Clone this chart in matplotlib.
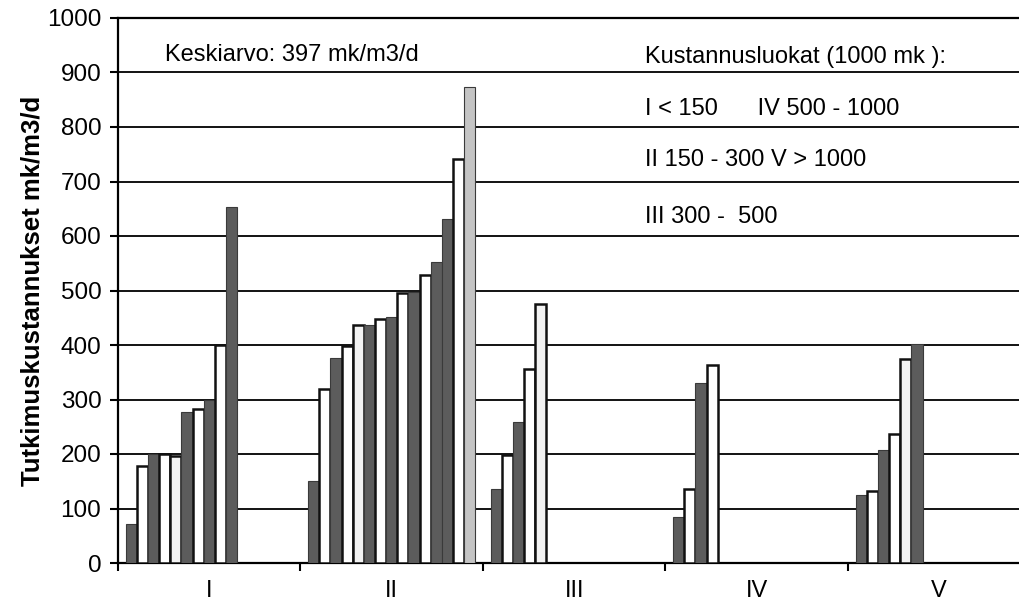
import matplotlib
matplotlib.use("Agg")
import matplotlib.pyplot as plt
import numpy as np

plt.rcParams['font.family'] = ['Liberation Sans', 'DejaVu Sans']

# cost classes and the bar values (mk/m3/d) in each class
categories = ['I', 'II', 'III', 'IV', 'V']
cat_I = [72, 178, 200, 200, 197, 277, 283, 300, 400, 653]
cat_II = [151, 319, 377, 398, 436, 437, 447, 451, 495, 497, 529, 553, 632, 742, 873]
cat_III = [135, 198, 258, 356, 475]
cat_IV = [85, 135, 330, 363]
cat_V = [125, 133, 207, 236, 375, 401]
groups = [cat_I, cat_II, cat_III, cat_IV, cat_V]

# fill per series slot (15 series)
DARK = '#5c5c5c'
WHITE = '#ffffff'
LIGHT = '#f2f2f2'
GRAY = '#c4c4c4'
series_fill = [DARK, WHITE, DARK, WHITE, LIGHT, DARK, WHITE, DARK,
               WHITE, DARK, WHITE, DARK, DARK, WHITE, GRAY]

n_series = len(series_fill)
gap = 1.35
w = 1.0 / (n_series + gap)

fig = plt.figure(figsize=(10.2, 6.06), dpi=100)
ax = fig.add_axes([118 / 1020, 43 / 606, 912.5 / 1020, 545 / 606])

for ci, vals in enumerate(groups):
    for si, v in enumerate(vals):
        left = ci + gap / 2 * w + si * w
        fc = series_fill[si]
        ec = '#111111' if fc in (WHITE, LIGHT) else '#3a3a3a'
        lw = 1.8 if fc in (WHITE, LIGHT) else 0.8
        ax.bar(left, v, width=w, align='edge', color=fc,
               edgecolor=ec, linewidth=lw, zorder=3)

ax.set_xlim(0, 5)
ax.set_ylim(0, 1000)
ax.set_yticks(np.arange(0, 1001, 100))
ax.yaxis.grid(True, color='black', linewidth=1.3, zorder=0)
ax.set_axisbelow(True)

# category boundaries get the tick marks, names sit between them
ax.set_xticks(np.arange(0, 6))
ax.set_xticklabels([])
ax.set_xticks(np.arange(0.5, 5), minor=True)
ax.set_xticklabels(categories, minor=True)
ax.tick_params(axis='x', which='major', direction='out', length=6, width=1.5)
ax.tick_params(axis='x', which='minor', length=0, pad=12, labelsize=17)
ax.tick_params(axis='y', direction='out', length=6, width=1.5, labelsize=17.5, pad=6)

for side in ('left', 'bottom', 'top'):
    ax.spines[side].set_linewidth(1.6)
    ax.spines[side].set_color('black')
ax.spines['right'].set_visible(False)

ax.set_ylabel('Tutkimuskustannukset mk/m3/d', fontsize=18.5, fontweight='bold')
ax.yaxis.set_label_coords(-0.081, 0.5)

txt = dict(fontsize=17, va='baseline', ha='left')
ax.text(0.26, 922, 'Keskiarvo: 397 mk/m3/d', **txt)
ax.text(2.89, 918, 'Kustannusluokat (1000 mk ):', **txt)
ax.text(2.89, 822, 'I < 150      IV 500 - 1000', **txt)
ax.text(2.89, 729, 'II 150 - 300 V > 1000', **txt)
ax.text(2.89, 624, 'III 300 -  500', **txt)

fig.savefig('out.png', dpi=100)
